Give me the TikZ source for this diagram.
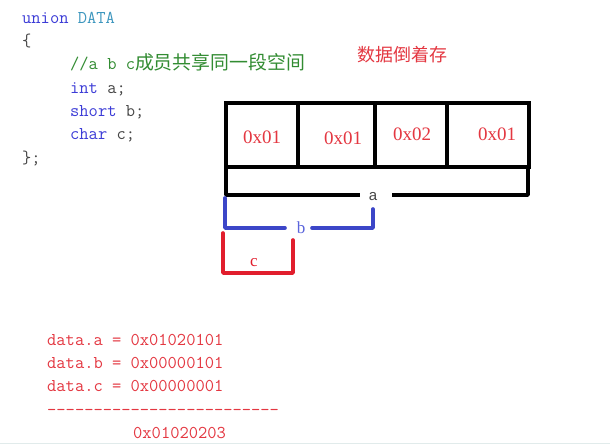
\documentclass[tikz,border=0pt]{standalone}
\usepackage{fontspec}
\setmonofont{Latin Modern Mono}
\newfontfamily\cjk{Noto Sans CJK SC}
\newfontfamily\serifv{Liberation Serif}
\newfontfamily\sansv{Liberation Sans}
\definecolor{kw}{RGB}{60,60,215}
\definecolor{ty}{RGB}{60,150,190}
\definecolor{cm}{RGB}{50,140,50}
\definecolor{codegray}{RGB}{70,70,70}
\definecolor{valred}{RGB}{228,55,65}
\definecolor{brred}{RGB}{225,30,45}
\definecolor{brblue}{RGB}{60,70,200}
\definecolor{lblblue}{RGB}{90,100,220}
\definecolor{faint}{RGB}{225,235,235}
\tikzset{
  code/.style={anchor=base west, inner sep=0pt, font=\ttfamily\fontsize{18}{20}\selectfont, text=codegray},
  rcode/.style={code, text=valred},
  val/.style={inner sep=0pt, font=\serifv\fontsize{19}{20}\selectfont, text=valred},
  boxline/.style={line width=3.8pt, black},
  bline/.style={line width=3.6pt, brblue, line cap=round, line join=round},
  rline/.style={line width=3.6pt, brred, line cap=round, line join=round},
  blackbr/.style={line width=3.6pt, black, line join=round},
}
\begin{document}
\begin{tikzpicture}[x=1pt,y=-1pt]
\useasboundingbox (0,0) rectangle (610,445);
\fill[white] (0,0) rectangle (610,445);
% code
\node[code] (l1) at (22,23) {\textcolor{kw}{union} \textcolor{ty}{DATA}};
\node[code] (l2) at (22,46.3) {\{};
\node[code] (l3) at (70,69.6) {\textcolor{cm}{//a b c{\cjk\fontsize{18.9}{20}\selectfont 成员共享同一段空间}}};
\node[code] (l4) at (70,93) {\textcolor{kw}{int} a;};
\node[code] (l5) at (70,116.3) {\textcolor{kw}{short} b;};
\node[code] (l6) at (70,139.6) {\textcolor{kw}{char} c;};
\node[code] (l7) at (22,163) {\};};
% title
\node[inner sep=0pt, text=valred, font=\cjk\fontsize{18}{20}\selectfont] (title) at (402,55) {数据倒着存};
% memory box
\draw[boxline] (226,103) rectangle (529,167);
\draw[boxline] (298,103) -- (298,167);
\draw[boxline] (375,103) -- (375,167);
\draw[boxline] (447,103) -- (447,167);
\node[val] (v1) at (262,137) {0x01};
\node[val] (v2) at (343,138) {0x01};
\node[val] (v3) at (412,134) {0x02};
\node[val] (v4) at (497,134) {0x01};
% a bracket
\node[inner sep=0pt, text=codegray, font=\sansv\fontsize{15}{16}\selectfont] (la) at (373,197) {a};
\coordinate (a1) at (226,167);
\coordinate (a2) at (226,195);
\coordinate (a3) at (360,195);
\coordinate (a4) at (392,195);
\coordinate (a5) at (528,195);
\coordinate (a6) at (528,167);
\draw[blackbr] (a1) -- (a2) -- (a3);
\draw[blackbr] (a4) -- (a5) -- (a6);
% b bracket
\node[inner sep=0pt, text=lblblue, font=\serifv\fontsize{17}{18}\selectfont] (lb) at (301,228) {b};
\coordinate (b1) at (225,198);
\coordinate (b2) at (225,228);
\coordinate (b3) at (285,228);
\coordinate (b4) at (312,228);
\coordinate (b5) at (373,228);
\coordinate (b6) at (373,209);
\draw[bline] (b1) -- (b2) -- (b3);
\draw[bline] (b4) -- (b5) -- (b6);
% c bracket
\node[inner sep=0pt, text=brred, font=\serifv\fontsize{17}{18}\selectfont] (lc) at (254,263) {c};
\coordinate (c1) at (223,233);
\coordinate (c2) at (223,273);
\coordinate (c3) at (293,273);
\coordinate (c4) at (293,240);
\draw[rline] (c1) -- (c2) -- (c3) -- (c4);
% results
\node[rcode] (r1) at (47,345) {data.a = 0x01020101};
\node[rcode] (r2) at (47,368.3) {data.b = 0x00000101};
\node[rcode] (r3) at (47,391.6) {data.c = 0x00000001};
\node[rcode] (r4) at (47,415) {-------------------------};
\node[rcode] (r5) at (133,438.3) {0x01020203};
\draw[faint, line width=1.5pt] (0,443.5) -- (610,443.5);
\end{tikzpicture}
\end{document}
